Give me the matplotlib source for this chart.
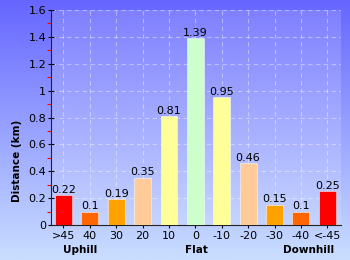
import numpy as np
import matplotlib
matplotlib.use("Agg")
import matplotlib.pyplot as plt
from matplotlib.ticker import MultipleLocator

# gradient categories and distances (km)
categories = [">45", "40", "30", "20", "10", "0", "-10", "-20", "-30", "-40", "<-45"]
distances = [0.22, 0.1, 0.19, 0.35, 0.81, 1.39, 0.95, 0.46, 0.15, 0.1, 0.25]
value_labels = ["0.22", "0.1", "0.19", "0.35", "0.81", "1.39", "0.95", "0.46", "0.15", "0.1", "0.25"]
bar_colors = ["#ff0000", "#ff6600", "#ffa200", "#ffcc99", "#ffff99", "#ccffcc",
              "#ffff99", "#ffcc99", "#ffa200", "#ff6600", "#ff0000"]
group_labels = ["Uphill", "Flat", "Downhill"]
group_x = [80, 196, 309]  # pixel centres

W, H = 350, 260
fig = plt.figure(figsize=(W / 100, H / 100), dpi=100)

# background gradient
bg = fig.add_axes([0, 0, 1, 1], zorder=-10)
top = np.array([102, 102, 255]) / 255
bottom = np.array([202, 222, 255]) / 255
t = np.linspace(0, 1, 256)[:, None]
grad = top[None, :] * (1 - t) + bottom[None, :] * t
bg.imshow(grad[:, None, :], aspect="auto", extent=[0, 1, 0, 1])
bg.axis("off")

# plot area: x 51..341, y 10..225 (pixels)
ax = fig.add_axes([51 / W, 1 - 225 / H, (341 - 51) / W, (225 - 10) / H])
ax.set_facecolor((1, 1, 1, 0.15))

x = np.arange(len(categories))
ax.bar(x, distances, width=0.64, color=bar_colors,
       edgecolor=(1, 1, 1, 0.5), linewidth=0.7, zorder=3)
for xi, d, lab in zip(x, distances, value_labels):
    ax.text(xi, d + 0.004, lab, ha="center", va="bottom", fontsize=8, zorder=4)

ax.set_xlim(-0.47, 10.52)
ax.set_ylim(0, 1.6)
ax.set_xticks(x)
ax.set_xticklabels(categories, fontsize=8)
ax.yaxis.set_minor_locator(MultipleLocator(0.1))
ax.set_yticks([0, 0.2, 0.4, 0.6, 0.8, 1, 1.2, 1.4, 1.6])
ax.set_yticklabels(["0", "0.2", "0.4", "0.6", "0.8", "1", "1.2", "1.4", "1.6"], fontsize=8)
ax.tick_params(axis="y", which="major", direction="inout", length=5, width=0.8, pad=1)
ax.tick_params(axis="y", which="minor", direction="out", length=3, width=0.8, color="red")
ax.tick_params(axis="x", which="major", direction="out", length=2, width=0.8, pad=2)

ax.grid(True, color="white", alpha=0.4, linestyle=(0, (4, 3)), linewidth=0.8, zorder=0)
ax.set_axisbelow(True)
for s in ["top", "right"]:
    ax.spines[s].set_visible(False)
ax.spines["left"].set_color("#222222")
ax.spines["bottom"].set_color("#222222")

fig.text(17 / W, 1 - 161 / H, "Distance (km)", rotation=90, ha="center", va="center",
         fontsize=7.5, fontweight="bold")
for gx, gl in zip(group_x, group_labels):
    fig.text(gx / W, 1 - 250 / H, gl, ha="center", va="center",
             fontsize=7.5, fontweight="bold")

fig.savefig("out.png", dpi=100)
